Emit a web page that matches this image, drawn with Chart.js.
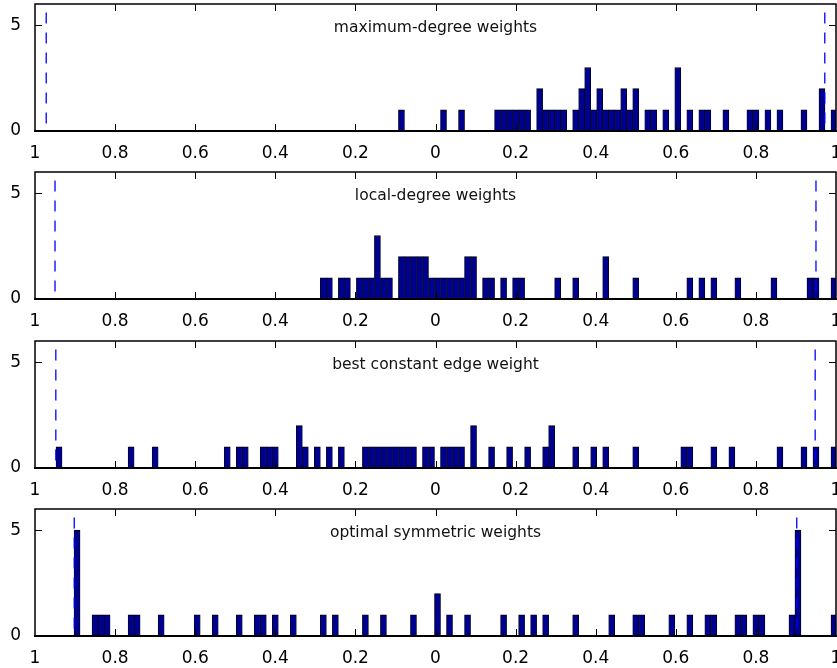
<!DOCTYPE html>
<html>
<head>
<meta charset="utf-8">
<script src="https://cdn.jsdelivr.net/npm/chart.js@4.4.1/dist/chart.umd.min.js"></script>
<style>
  html, body { margin: 0; padding: 0; background: #fff; overflow: hidden; }
  .panel { position: absolute; left: 0; width: 837px; height: 168px; }
</style>
</head>
<body>
<div class="panel" style="top:0px"><canvas id="c0" width="837" height="168"></canvas></div>
<div class="panel" style="top:168px"><canvas id="c1" width="837" height="168"></canvas></div>
<div class="panel" style="top:337px"><canvas id="c2" width="837" height="168"></canvas></div>
<div class="panel" style="top:505px"><canvas id="c3" width="837" height="168"></canvas></div>
<script>
// histogram bins (bin centre, count), one pair of arrays per panel
const maxDegCenters = [-0.085, 0.02, 0.065, 0.155, 0.17, 0.185, 0.2, 0.215, 0.23, 0.26, 0.275, 0.29, 0.305, 0.32,
  0.35, 0.365, 0.38, 0.395, 0.41, 0.425, 0.44, 0.455, 0.47, 0.485, 0.5, 0.53, 0.545, 0.575, 0.605, 0.635,
  0.665, 0.68, 0.725, 0.785, 0.8, 0.83, 0.86, 0.92, 0.965, 0.995];
const maxDegCounts = [1, 1, 1, 1, 1, 1, 1, 1, 1, 2, 1, 1, 1, 1,
  1, 2, 3, 1, 2, 1, 1, 1, 2, 1, 2, 1, 1, 1, 3, 1,
  1, 1, 1, 1, 1, 1, 1, 1, 2, 1];

const localDegCenters = [-0.28, -0.265, -0.235, -0.22, -0.19, -0.175, -0.16, -0.145, -0.13, -0.115,
  -0.085, -0.07, -0.055, -0.04, -0.025, -0.01, 0.005, 0.02, 0.035, 0.05, 0.065, 0.08, 0.095,
  0.125, 0.14, 0.17, 0.2, 0.215, 0.305, 0.35, 0.425, 0.5, 0.635, 0.665, 0.695, 0.755, 0.845, 0.935, 0.95, 0.995];
const localDegCounts = [1, 1, 1, 1, 1, 1, 1, 3, 1, 1,
  2, 2, 2, 2, 2, 1, 1, 1, 1, 1, 1, 2, 2,
  1, 1, 1, 1, 1, 1, 1, 2, 1, 1, 1, 1, 1, 1, 1, 1, 1];

const bestConstCenters = [-0.94, -0.76, -0.7, -0.52, -0.49, -0.475, -0.43, -0.415, -0.4, -0.34, -0.325,
  -0.295, -0.265, -0.235, -0.175, -0.16, -0.145, -0.13, -0.115, -0.1, -0.085, -0.07, -0.055,
  -0.025, -0.01, 0.02, 0.035, 0.05, 0.065, 0.095, 0.14, 0.185, 0.23, 0.275, 0.29, 0.35, 0.395,
  0.425, 0.5, 0.62, 0.635, 0.695, 0.74, 0.86, 0.92, 0.95, 0.995];
const bestConstCounts = [1, 1, 1, 1, 1, 1, 1, 1, 1, 2, 1,
  1, 1, 1, 1, 1, 1, 1, 1, 1, 1, 1, 1,
  1, 1, 1, 1, 1, 1, 2, 1, 1, 1, 1, 2, 1, 1,
  1, 1, 1, 1, 1, 1, 1, 1, 1, 1];

const optSymCenters = [-0.895, -0.85, -0.835, -0.82, -0.76, -0.745, -0.685, -0.595, -0.55, -0.49, -0.445,
  -0.43, -0.4, -0.355, -0.28, -0.25, -0.175, -0.13, -0.055, 0.005, 0.035, 0.08, 0.17, 0.215, 0.245,
  0.275, 0.35, 0.44, 0.5, 0.515, 0.59, 0.635, 0.68, 0.695, 0.755, 0.77, 0.8, 0.815, 0.89, 0.905, 0.995];
const optSymCounts = [5, 1, 1, 1, 1, 1, 1, 1, 1, 1, 1,
  1, 1, 1, 1, 1, 1, 1, 1, 2, 1, 1, 1, 1, 1,
  1, 1, 1, 1, 1, 1, 1, 1, 1, 1, 1, 1, 1, 1, 5, 1];

const panelTitles = ['maximum-degree weights', 'local-degree weights', 'best constant edge weight', 'optimal symmetric weights'];
// dashed markers at +/- rate for each panel
const rateMarks = [0.972, 0.95, 0.948, 0.902];
const markTop = 5.6;

const xTickValues = [-1, -0.8, -0.6, -0.4, -0.2, 0, 0.2, 0.4, 0.6, 0.8, 1];
const xTickLabels = ['1', '0.8', '0.6', '0.4', '0.2', '0', '0.2', '0.4', '0.6', '0.8', '1'];
const yTickValues = [0, 5];
const yTickLabels = ['0', '5'];

const FONT = 'DejaVu Sans';

// frame, inward ticks and the panel caption
const framePlugin = {
  id: 'frame',
  afterDraw(chart, args, opts) {
    const { ctx, chartArea: a } = chart;
    const x = chart.scales.x, y = chart.scales.y;
    ctx.save();
    ctx.strokeStyle = '#000';
    ctx.lineWidth = 1;
    ctx.beginPath();
    x.ticks.forEach(t => {
      if (t.value <= -1 || t.value >= 1) return;
      const px = Math.round(x.getPixelForValue(t.value)) + 0.5;
      ctx.moveTo(px, a.top); ctx.lineTo(px, a.top + 7);
      ctx.moveTo(px, a.bottom); ctx.lineTo(px, a.bottom - 7);
    });
    y.ticks.forEach(t => {
      if (t.value === 0) return;
      const py = Math.round(y.getPixelForValue(t.value)) + 0.5;
      ctx.moveTo(a.left, py); ctx.lineTo(a.left + 7, py);
      ctx.moveTo(a.right, py); ctx.lineTo(a.right - 7, py);
    });
    ctx.stroke();

    ctx.lineWidth = 1.5;
    ctx.beginPath();
    ctx.moveTo(a.left, a.bottom); ctx.lineTo(a.left, a.top);
    ctx.lineTo(a.right, a.top); ctx.lineTo(a.right, a.bottom);
    ctx.stroke();
    ctx.lineWidth = 2;
    ctx.beginPath();
    ctx.moveTo(a.left - 1, a.bottom); ctx.lineTo(a.right + 1, a.bottom);
    ctx.stroke();

    ctx.font = '15.5px "' + FONT + '"';
    ctx.fillStyle = '#111';
    ctx.textAlign = 'center';
    ctx.textBaseline = 'alphabetic';
    ctx.fillText(opts.text, (a.left + a.right) / 2, a.top + 28);
    ctx.restore();
  }
};

function drawPanel(id, centers, counts, title, rate) {
  const bars = centers.map((c, i) => ({ x: c, y: counts[i] }));
  const mark = v => [{ x: v, y: markTop }, { x: v, y: 0 }];
  const dashed = {
    type: 'line',
    borderColor: '#0000ff',
    borderWidth: 1.3,
    borderDash: [11, 9],
    pointRadius: 0,
    fill: false,
    order: 0
  };

  new Chart(document.getElementById(id).getContext('2d'), {
    type: 'bar',
    data: {
      datasets: [
        Object.assign({ data: mark(-rate) }, dashed),
        Object.assign({ data: mark(rate) }, dashed),
        {
          data: bars,
          backgroundColor: '#00008f',
          borderColor: '#000',
          borderWidth: { top: 1, left: 0.7, right: 0.7, bottom: 0 },
          barPercentage: 1,
          categoryPercentage: 1,
          order: 1
        }
      ]
    },
    options: {
      responsive: false,
      animation: false,
      layout: { padding: { top: 4, right: 1, left: 0, bottom: 0 } },
      plugins: {
        legend: { display: false },
        tooltip: { enabled: false },
        frame: { text: title }
      },
      scales: {
        x: {
          type: 'linear',
          offset: false,
          min: -1,
          max: 1,
          grid: { display: false, offset: false },
          border: { display: false },
          afterBuildTicks: s => { s.ticks = xTickValues.map(v => ({ value: v })); },
          afterFit: s => { s.height = 37; s.paddingLeft = 0; s.paddingRight = 0; },
          ticks: {
            autoSkip: false,
            maxRotation: 0,
            padding: 4,
            color: '#000',
            font: { family: FONT, size: 17 },
            callback: (v, i) => xTickLabels[i]
          }
        },
        y: {
          min: 0,
          max: 6,
          grid: { display: false },
          border: { display: false },
          afterBuildTicks: s => { s.ticks = yTickValues.map(v => ({ value: v })); },
          afterFit: s => { s.width = 35; s.paddingTop = 0; s.paddingBottom = 0; },
          ticks: {
            padding: 6,
            color: '#000',
            font: { family: FONT, size: 17 },
            callback: (v, i) => yTickLabels[i]
          }
        }
      }
    },
    plugins: [framePlugin]
  });
}

drawPanel('c0', maxDegCenters, maxDegCounts, panelTitles[0], rateMarks[0]);
drawPanel('c1', localDegCenters, localDegCounts, panelTitles[1], rateMarks[1]);
drawPanel('c2', bestConstCenters, bestConstCounts, panelTitles[2], rateMarks[2]);
drawPanel('c3', optSymCenters, optSymCounts, panelTitles[3], rateMarks[3]);
</script>
</body>
</html>
